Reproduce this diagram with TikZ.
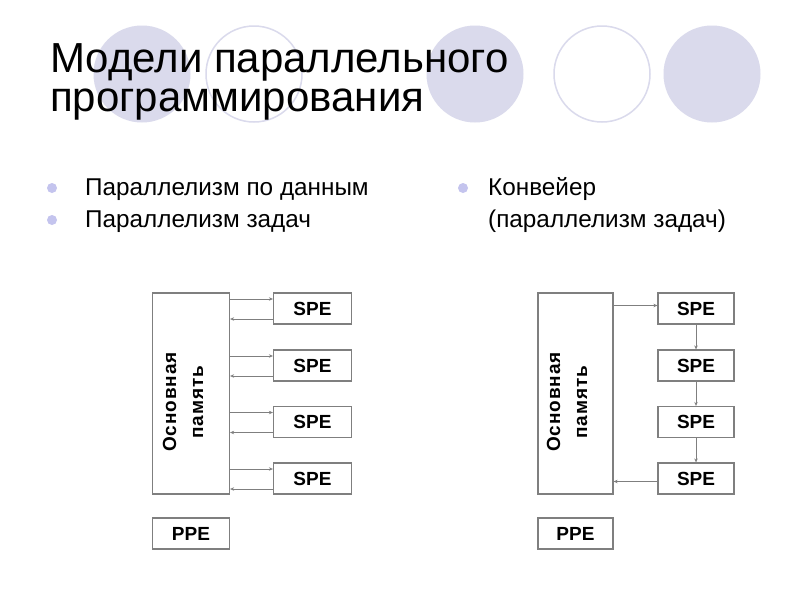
\documentclass[tikz,border=0pt]{standalone}
\usepackage{fontspec}
\setmainfont{Liberation Sans}
\newfontfamily\spaced[LetterSpace=5]{Liberation Sans}
\usetikzlibrary{arrows.meta}
\definecolor{lav}{HTML}{DADAEC}
\definecolor{bul}{HTML}{C4C4EE}
\definecolor{ln}{HTML}{7F7F7F}
\tikzset{
  box/.style={draw=ln, line width=1.2pt, fill=white, inner sep=0pt, minimum width=78pt, minimum height=31pt, font=\fontsize{19}{22}\selectfont\bfseries},
  mem/.style={draw=ln, line width=1.2pt, fill=white, inner sep=0pt, minimum width=77pt, minimum height=201pt},
  memtxt/.style={rotate=90, align=center, inner sep=0pt, font=\fontsize{19}{27}\selectfont\bfseries\spaced},
  arr/.style={draw=ln, line width=0.9pt, -{Stealth[length=4pt,width=3.5pt]}},
  txt/.style={anchor=base west, inner sep=0pt, font=\fontsize{24.3}{30}\selectfont},
  dot/.style={circle, fill=bul, inner sep=0pt, minimum size=10pt},
}
\begin{document}
\begin{tikzpicture}[x=1pt,y=-1pt]
\useasboundingbox[fill=white] (0,0) rectangle (800,600);
% decorative circles
\fill[lav] (142,74) circle (48.5);
\draw[lav, line width=1.5pt] (254,74) circle (48);
\fill[lav] (475,74) circle (48.5);
\draw[lav, line width=1.5pt] (602,74) circle (48);
\fill[lav] (712,74) circle (48.5);
% title
\node[anchor=base west, inner sep=0pt, font=\fontsize{42}{50}\selectfont] (t1) at (50,72) {Модели параллельного};
\node[anchor=base west, inner sep=0pt, font=\fontsize{42}{50}\selectfont] (t2) at (50,111) {программирования};
% bullets
\node[dot] (b1) at (52,188) {};
\node[txt] (l1) at (85,195) {Параллелизм по данным};
\node[dot] (b2) at (52,220) {};
\node[txt] (l2) at (85,227) {Параллелизм задач};
\node[dot] (b3) at (463,188) {};
\node[txt] (r1) at (488,195) {Конвейер};
\node[txt] (r2) at (488,227) {(параллелизм задач)};
% left diagram
\node[mem] (m1) at (191,393.5) {};
\node[memtxt] (m1t) at (183,402) {Основная\\память};
\node[box] (s1) at (312.5,308.5) {SPE};
\node[box] (s2) at (312.5,365.5) {SPE};
\node[box] (s3) at (312.5,422) {SPE};
\node[box] (s4) at (312.5,478.5) {SPE};
\node[box, minimum width=77pt] (p1) at (191,533.5) {PPE};
\foreach \s in {s1,s2,s3,s4}{
  \draw[arr] ([yshift=9.5pt]\s.west -| m1.east) -- ([yshift=9.5pt]\s.west);
  \draw[arr] ([yshift=-10.5pt]\s.west) -- ([yshift=-10.5pt]\s.west -| m1.east);
}
% right diagram
\node[mem, minimum width=75pt] (m2) at (575.5,393.5) {};
\node[memtxt] (m2t) at (567,402) {Основная\\память};
\node[box, minimum width=76pt] (u1) at (696,308.5) {SPE};
\node[box, minimum width=76pt] (u2) at (696,365.5) {SPE};
\node[box, minimum width=76pt] (u3) at (696,422) {SPE};
\node[box, minimum width=76pt] (u4) at (696,478.5) {SPE};
\node[box, minimum width=75pt] (p2) at (575.5,533.5) {PPE};
\draw[arr] ([yshift=3pt]u1.west -| m2.east) -- ([yshift=3pt]u1.west);
\draw[arr] (u1) -- (u2);
\draw[arr] (u2) -- (u3);
\draw[arr] (u3) -- (u4);
\draw[arr] ([yshift=-3pt]u4.west) -- ([yshift=-3pt]u4.west -| m2.east);
\end{tikzpicture}
\end{document}
